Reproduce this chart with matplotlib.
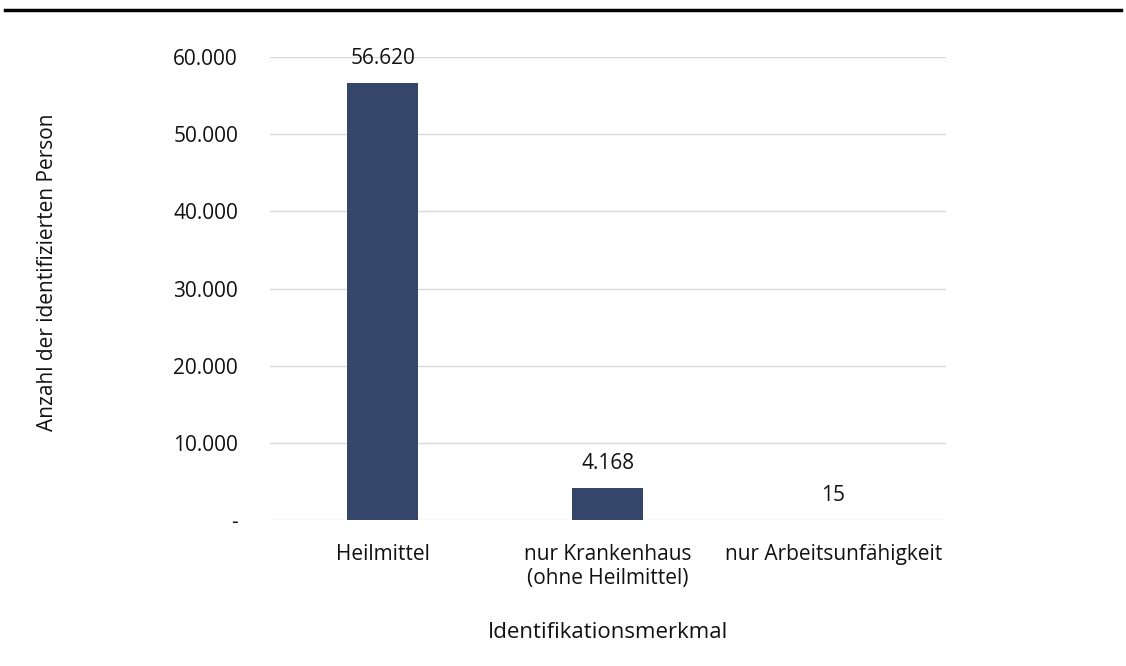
import matplotlib.pyplot as plt
from matplotlib.lines import Line2D
from matplotlib.ticker import FuncFormatter

categories = ["Heilmittel", "nur Krankenhaus\n(ohne Heilmittel)", "nur Arbeitsunfähigkeit"]
values = [56620, 4168, 15]
yticks = [0, 10000, 20000, 30000, 40000, 50000, 60000]

bar_color = "#344669"
grid_color = "#d9d9d9"
text_color = "#111111"


def de_num(v, pos=None):
    if v == 0:
        return "-"
    return f"{v:,.0f}".replace(",", ".")


plt.rcParams["font.family"] = ["Open Sans", "DejaVu Sans"]
plt.rcParams["font.size"] = 15

fig = plt.figure(figsize=(11.26, 6.66), dpi=100)
ax = fig.add_axes([0.2398, 0.2192, 0.6003, 0.6952])

x = range(len(categories))
bars = ax.bar(x, values, width=0.315, color=bar_color, zorder=3)

for b, v in zip(bars, values):
    ax.annotate(de_num(v), (b.get_x() + b.get_width() / 2, v),
                xytext=(0, 10), textcoords="offset points",
                ha="center", va="bottom", color=text_color)

ax.set_xlim(-0.5, len(categories) - 0.5)
ax.set_ylim(0, 60000)
ax.set_yticks(yticks)
ax.yaxis.set_major_formatter(FuncFormatter(de_num))
ax.set_xticks(list(x))
ax.set_xticklabels(categories)
ax.tick_params(axis="both", length=0, colors=text_color)
ax.tick_params(axis="y", pad=23)
ax.tick_params(axis="x", pad=17)
ax.grid(axis="y", color=grid_color, linewidth=1, zorder=0)
for s in ax.spines.values():
    s.set_visible(False)

ax.set_xlabel("Identifikationsmerkmal", labelpad=24, color=text_color, fontsize=16)
fig.text(48 / 1126, 1 - 272 / 666, "Anzahl der identifizierten Person", rotation=90,
         ha="center", va="center", color=text_color)

fig.add_artist(Line2D([0.004, 0.996], [1 - 10 / 666, 1 - 10 / 666],
                      color="black", linewidth=2.5, transform=fig.transFigure))

fig.savefig("out.png", dpi=100)
